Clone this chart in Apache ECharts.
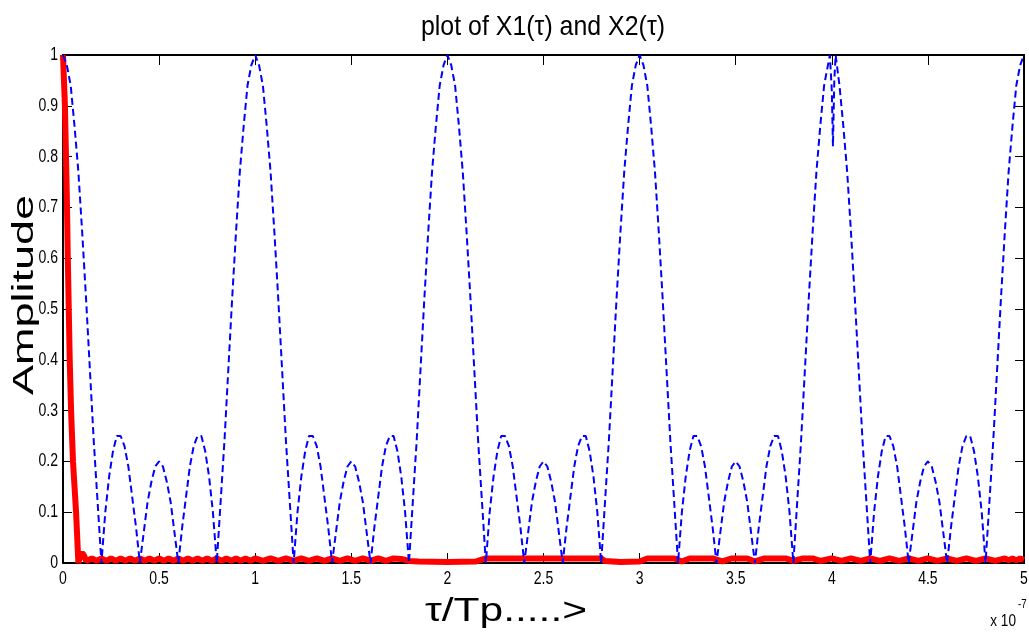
<!DOCTYPE html>
<html>
<head>
<meta charset="utf-8">
<script src="https://cdn.jsdelivr.net/npm/echarts@6/dist/echarts.min.js"></script>
<style>
  html, body { margin: 0; padding: 0; background: #ffffff; }
  #chart { width: 1029px; height: 636px; }
</style>
</head>
<body>
<div id="chart"></div>
<script>
// tau axis (units of 1e-7), ticks every 0.5
const xTicks = [0, 0.5, 1, 1.5, 2, 2.5, 3, 3.5, 4, 4.5, 5];
const yTicks = [0, 0.1, 0.2, 0.3, 0.4, 0.5, 0.6, 0.7, 0.8, 0.9, 1];

// X2(tau): pulse-train correlation, sampled every 0.02
const x2Step = 0.02;
const x2Amp = [
  // 0 .. 1
  1.00, 0.98, 0.94, 0.86, 0.77, 0.65, 0.52, 0.38, 0.24, 0.12,
  0.00, 0.10, 0.17, 0.22, 0.25, 0.25, 0.23, 0.19, 0.13, 0.07,
  0.00, 0.06, 0.12, 0.16, 0.19, 0.20, 0.19, 0.16, 0.12, 0.06,
  0.00, 0.07, 0.13, 0.19, 0.23, 0.25, 0.25, 0.22, 0.17, 0.10,
  0.00, 0.12, 0.24, 0.38, 0.52, 0.65, 0.77, 0.86, 0.94, 0.98,
  // 1 .. 2
  1.00, 0.98, 0.94, 0.86, 0.77, 0.65, 0.52, 0.38, 0.24, 0.12,
  0.00, 0.10, 0.17, 0.22, 0.25, 0.25, 0.23, 0.19, 0.13, 0.07,
  0.00, 0.06, 0.12, 0.16, 0.19, 0.20, 0.19, 0.16, 0.12, 0.06,
  0.00, 0.07, 0.13, 0.19, 0.23, 0.25, 0.25, 0.22, 0.17, 0.10,
  0.00, 0.12, 0.24, 0.38, 0.52, 0.65, 0.77, 0.86, 0.94, 0.98,
  // 2 .. 3
  1.00, 0.98, 0.94, 0.86, 0.77, 0.65, 0.52, 0.38, 0.24, 0.12,
  0.00, 0.10, 0.17, 0.22, 0.25, 0.25, 0.23, 0.19, 0.13, 0.07,
  0.00, 0.06, 0.12, 0.16, 0.19, 0.20, 0.19, 0.16, 0.12, 0.06,
  0.00, 0.07, 0.13, 0.19, 0.23, 0.25, 0.25, 0.22, 0.17, 0.10,
  0.00, 0.12, 0.24, 0.38, 0.52, 0.65, 0.77, 0.86, 0.94, 0.98,
  // 3 .. 4
  1.00, 0.98, 0.94, 0.86, 0.77, 0.65, 0.52, 0.38, 0.24, 0.12,
  0.00, 0.10, 0.17, 0.22, 0.25, 0.25, 0.23, 0.19, 0.13, 0.07,
  0.00, 0.06, 0.12, 0.16, 0.19, 0.20, 0.19, 0.16, 0.12, 0.06,
  0.00, 0.07, 0.13, 0.19, 0.23, 0.25, 0.25, 0.22, 0.17, 0.10,
  0.00, 0.12, 0.24, 0.38, 0.52, 0.65, 0.77, 0.86, 0.94, 0.98,
  // 4 .. 5
  1.00, 0.98, 0.94, 0.86, 0.77, 0.65, 0.52, 0.38, 0.24, 0.12,
  0.00, 0.10, 0.17, 0.22, 0.25, 0.25, 0.23, 0.19, 0.13, 0.07,
  0.00, 0.06, 0.12, 0.16, 0.19, 0.20, 0.19, 0.16, 0.12, 0.06,
  0.00, 0.07, 0.13, 0.19, 0.23, 0.25, 0.25, 0.22, 0.17, 0.10,
  0.00, 0.12, 0.24, 0.38, 0.52, 0.65, 0.77, 0.86, 0.94, 0.98,
  1.00
];
// narrow notch on the peak at tau = 4
const x2Notch = [[3.99, 1.00], [4.0, 0.93], [4.006, 0.82], [4.013, 0.95], [4.02, 1.00]];

// X1(tau): sharp main peak then a low ripple floor
const x1Points = [
  [0, 1], [0.01, 0.9], [0.02, 0.72], [0.025, 0.6], [0.035, 0.4], [0.042, 0.3],
  [0.052, 0.2], [0.068, 0.1], [0.08, 0], [0.09, 0.016], [0.1, 0.02], [0.11, 0.014],
  [0.12, 0.004], [0.15, 0.009], [0.175, 0.004], [0.2, 0.009], [0.225, 0.004],
  [0.25, 0.009], [0.275, 0.004], [0.3, 0.009], [0.325, 0.004], [0.35, 0.009],
  [0.375, 0.004], [0.4, 0.009], [0.425, 0.004], [0.45, 0.009], [0.475, 0.004],
  [0.5, 0.009], [0.525, 0.004], [0.55, 0.009], [0.575, 0.004], [0.6, 0.009],
  [0.625, 0.004], [0.65, 0.009], [0.675, 0.004], [0.7, 0.009], [0.725, 0.004],
  [0.75, 0.009], [0.775, 0.004], [0.8, 0.009], [0.825, 0.004], [0.85, 0.009],
  [0.875, 0.004], [0.9, 0.009], [0.925, 0.004], [0.95, 0.009], [0.975, 0.004],
  [1.0, 0.009], [1.04, 0.004], [1.08, 0.009], [1.12, 0.004], [1.16, 0.009],
  [1.2, 0.004], [1.24, 0.009], [1.28, 0.004], [1.32, 0.009], [1.36, 0.004],
  [1.4, 0.009], [1.44, 0.004], [1.48, 0.009], [1.52, 0.004], [1.56, 0.009],
  [1.6, 0.004], [1.64, 0.009], [1.68, 0.004], [1.72, 0.009], [1.76, 0.008],
  [1.8, 0.004], [1.85, 0.003], [2.0, 0.002], [2.15, 0.003], [2.2, 0.009],
  [2.8, 0.009], [2.82, 0.004], [2.9, 0.002], [3.0, 0.003], [3.04, 0.009],
  [3.18, 0.009], [3.22, 0.003], [3.26, 0.009], [3.38, 0.009], [3.43, 0.003],
  [3.48, 0.009], [3.56, 0.009], [3.6, 0.003], [3.65, 0.009], [3.76, 0.009],
  [3.8, 0.004], [3.85, 0.009], [3.9, 0.009], [3.94, 0.004], [4.0, 0.009],
  [4.05, 0.004], [4.1, 0.009], [4.15, 0.004], [4.2, 0.009], [4.25, 0.004],
  [4.3, 0.009], [4.35, 0.004], [4.4, 0.009], [4.45, 0.004], [4.5, 0.009],
  [4.55, 0.004], [4.6, 0.009], [4.65, 0.004], [4.7, 0.009], [4.75, 0.004],
  [4.8, 0.009], [4.85, 0.004], [4.9, 0.009], [4.92, 0.005], [4.94, 0.009],
  [4.96, 0.005], [4.98, 0.009], [5.0, 0.006]
];

const titleText = 'plot of X1(\u03c4) and X2(\u03c4)';
const xName = '\u03c4/Tp.....>';
const yName = 'Amplitude';

const x2Points = x2Amp
  .map((v, i) => [+(i * x2Step).toFixed(3), v])
  .filter(p => p[0] < 3.985 || p[0] > 4.025)
  .concat(x2Notch)
  .sort((a, b) => a[0] - b[0]);

const sans = '"Liberation Sans", Arial, sans-serif';

const G = { left: 63, right: 5, top: 55, bottom: 73 };

const xTickStyle = { show: true, inside: true, length: 10, lineStyle: { color: '#000', width: 1 } };
const yTickStyle = { show: true, inside: true, length: 9, lineStyle: { color: '#000', width: 1 } };
const lineStyle = { show: true, onZero: false, lineStyle: { color: '#000', width: 2 } };

const chart = echarts.init(document.getElementById('chart'), null, { renderer: 'canvas' });

chart.setOption({
  animation: false,
  backgroundColor: '#ffffff',
  grid: { left: G.left, right: G.right, top: G.top, bottom: G.bottom, containLabel: false },
  xAxis: [
    {
      type: 'value', min: xTicks[0], max: xTicks[xTicks.length - 1], interval: 0.5,
      position: 'bottom',
      axisLine: lineStyle, axisTick: xTickStyle, splitLine: { show: false },
      axisLabel: { show: false }
    },
    {
      type: 'value', min: xTicks[0], max: xTicks[xTicks.length - 1], interval: 0.5,
      position: 'top',
      axisLine: lineStyle, axisTick: xTickStyle, splitLine: { show: false },
      axisLabel: { show: false }
    }
  ],
  yAxis: [
    {
      type: 'value', min: yTicks[0], max: yTicks[yTicks.length - 1], interval: 0.1,
      position: 'left',
      axisLine: lineStyle, axisTick: yTickStyle, splitLine: { show: false },
      axisLabel: { show: false }
    },
    {
      type: 'value', min: yTicks[0], max: yTicks[yTicks.length - 1], interval: 0.1,
      position: 'right',
      axisLine: lineStyle, axisTick: yTickStyle, splitLine: { show: false },
      axisLabel: { show: false }
    }
  ],
  series: [
    {
      name: 'X1', type: 'line', data: x1Points, showSymbol: false, symbol: 'none',
      lineStyle: { color: '#ff0000', width: 6 }, z: 2, clip: true
    },
    {
      name: 'X2', type: 'line', data: x2Points, showSymbol: false, symbol: 'none',
      lineStyle: { color: '#0000ff', width: 2, type: [7, 4] }, z: 3, clip: true
    }
  ]
});

// condensed tick labels placed through the axis scales
const labels = [];
xTicks.forEach(v => {
  const p = chart.convertToPixel({ xAxisIndex: 0 }, v);
  labels.push({
    type: 'text', x: p, y: 579, scaleX: 0.78,
    style: { text: String(v), fill: '#000', font: '18px ' + sans, textAlign: 'center', textVerticalAlign: 'middle' }
  });
});
yTicks.forEach(v => {
  const p = chart.convertToPixel({ yAxisIndex: 0 }, v);
  labels.push({
    type: 'text', x: 58, y: p, scaleX: 0.78,
    style: { text: String(v), fill: '#000', font: '18px ' + sans, textAlign: 'right', textVerticalAlign: 'middle' }
  });
});

chart.setOption({
  graphic: labels.concat([
    {
      type: 'text', x: 543, y: 27, scaleX: 0.89,
      style: { text: titleText, fill: '#000', font: '28px ' + sans, textAlign: 'center', textVerticalAlign: 'middle' }
    },
    {
      type: 'text', x: 25, y: 295, rotation: Math.PI / 2, scaleX: 1.5,
      style: { text: yName, fill: '#000', font: '30px ' + sans, textAlign: 'center', textVerticalAlign: 'middle' }
    },
    {
      type: 'text', x: 506, y: 612, scaleX: 1.25,
      style: { text: xName, fill: '#000', font: '34px ' + sans, textAlign: 'center', textVerticalAlign: 'middle' }
    },
    {
      type: 'text', x: 1016, y: 621, scaleX: 0.8,
      style: { text: 'x 10', fill: '#000', font: '17px ' + sans, textAlign: 'right', textVerticalAlign: 'middle' }
    },
    {
      type: 'text', x: 1018, y: 605, scaleX: 0.8,
      style: { text: '-7', fill: '#000', font: '12px ' + sans, textAlign: 'left', textVerticalAlign: 'middle' }
    }
  ])
});
</script>
</body>
</html>
